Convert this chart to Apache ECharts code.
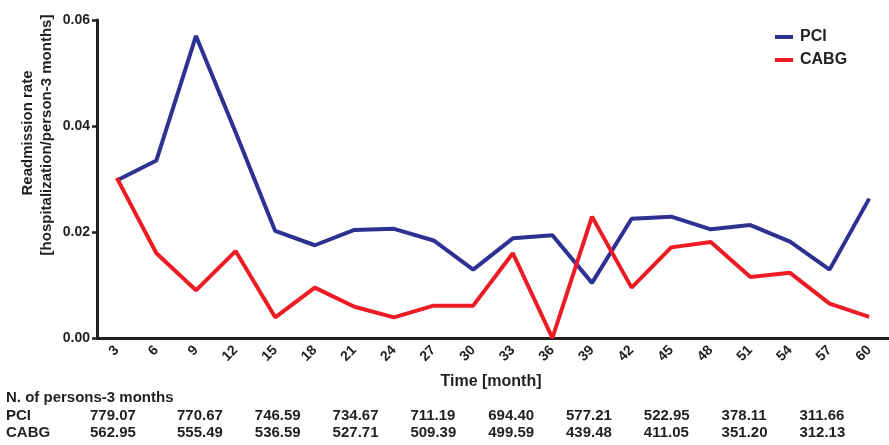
<!DOCTYPE html>
<html>
<head>
<meta charset="utf-8">
<script src="https://cdn.jsdelivr.net/npm/echarts@6/dist/echarts.min.js"></script>
<style>
  html, body { margin: 0; padding: 0; background: #ffffff; }
  #chart { width: 889px; height: 445px; }
</style>
</head>
<body>
<div id="chart"></div>
<script>
// Follow-up time points (months)
const months = ['3', '6', '9', '12', '15', '18', '21', '24', '27', '30',
                '33', '36', '39', '42', '45', '48', '51', '54', '57', '60'];

// Readmission rate, hospitalizations per person-3 months
const pciRate = [0.0297, 0.0335, 0.0570, 0.0388, 0.0202, 0.0175, 0.0204, 0.0206, 0.0184, 0.0129,
                 0.0188, 0.0194, 0.0104, 0.0225, 0.0229, 0.0205, 0.0213, 0.0182, 0.0129, 0.0263];
const cabgRate = [0.0302, 0.0160, 0.0090, 0.0164, 0.0039, 0.0095, 0.0059, 0.0039, 0.0061, 0.0061,
                  0.0160, 0.0000, 0.0229, 0.0095, 0.0171, 0.0181, 0.0115, 0.0123, 0.0065, 0.0040];

// Persons at risk per 3-month window
const pciPersons = ['779.07', '770.67', '746.59', '734.67', '711.19', '694.40', '577.21', '522.95', '378.11', '311.66'];
const cabgPersons = ['562.95', '555.49', '536.59', '527.71', '509.39', '499.59', '439.48', '411.05', '351.20', '312.13'];

const yTicks = { min: 0, max: 0.06, interval: 0.02 };

const FONT = '"Liberation Sans", Arial, Helvetica, sans-serif';
const INK = '#231f20';
const BLUE = '#2e3192';
const RED = '#ed1c24';

// Table under the chart: header, row labels and value columns
const tableGraphics = [];
const rowY = [398, 416, 433];
function txt(x, y, s) {
  tableGraphics.push({
    type: 'text', x: x, y: y,
    style: { text: s, font: 'bold 15px ' + FONT, fill: INK, verticalAlign: 'middle' }
  });
}
txt(6, rowY[0], 'N. of persons-3 months');
txt(6, rowY[1], 'PCI');
txt(6, rowY[2], 'CABG');
pciPersons.forEach((v, i) => {
  const x = i === 0 ? 90 : 177 + (i - 1) * 77.8;
  txt(x, rowY[1], v);
  txt(x, rowY[2], cabgPersons[i]);
});

// Axis titles
const titleGraphics = [
  {
    type: 'text', x: 28, y: 133, rotation: Math.PI / 2,
    style: { text: 'Readmission rate', font: 'bold 15px ' + FONT, fill: INK,
             align: 'center', verticalAlign: 'middle' }
  },
  {
    type: 'text', x: 47, y: 135, rotation: Math.PI / 2,
    style: { text: '[hospitalization/person-3 months]', font: 'bold 15px ' + FONT, fill: INK,
             align: 'center', verticalAlign: 'middle' }
  },
  {
    type: 'text', x: 491, y: 382,
    style: { text: 'Time [month]', font: 'bold 16px ' + FONT, fill: INK,
             align: 'center', verticalAlign: 'middle' }
  }
];

const chart = echarts.init(document.getElementById('chart'), null, { renderer: 'canvas' });
chart.setOption({
  animation: false,
  backgroundColor: '#ffffff',
  grid: { left: 97, right: -6, top: 20, bottom: 107, containLabel: false },
  legend: {
    orient: 'vertical',
    left: 770, top: 24,
    itemWidth: 18, itemHeight: 4, itemGap: 7,
    icon: 'rect',
    textStyle: { fontFamily: FONT, fontWeight: 'bold', fontSize: 16, color: INK, padding: [0, 0, 0, 2] },
    data: ['PCI', 'CABG']
  },
  xAxis: {
    type: 'category',
    data: months,
    boundaryGap: true,
    axisLine: { lineStyle: { color: INK, width: 3 } },
    axisTick: { alignWithLabel: true, length: 5, lineStyle: { color: INK, width: 2.5 } },
    axisLabel: {
      rotate: 45, margin: 10, interval: 0,
      fontFamily: FONT, fontWeight: 'bold', fontSize: 14, color: INK,
      padding: [0, 0, 0, 0]
    },
    splitLine: { show: false }
  },
  yAxis: {
    type: 'value',
    min: yTicks.min, max: yTicks.max, interval: yTicks.interval,
    axisLine: { show: true, lineStyle: { color: INK, width: 3 } },
    axisTick: { show: true, length: 5, lineStyle: { color: INK, width: 2.5 } },
    axisLabel: {
      margin: 7,
      formatter: v => v.toFixed(2),
      fontFamily: FONT, fontWeight: 'bold', fontSize: 14, color: INK
    },
    splitLine: { show: false }
  },
  series: [
    {
      name: 'PCI', type: 'line', data: pciRate,
      symbol: 'none', color: BLUE,
      lineStyle: { color: BLUE, width: 4 }
    },
    {
      name: 'CABG', type: 'line', data: cabgRate,
      symbol: 'none', color: RED,
      lineStyle: { color: RED, width: 4 }
    }
  ],
  graphic: titleGraphics.concat(tableGraphics)
});
</script>
</body>
</html>
